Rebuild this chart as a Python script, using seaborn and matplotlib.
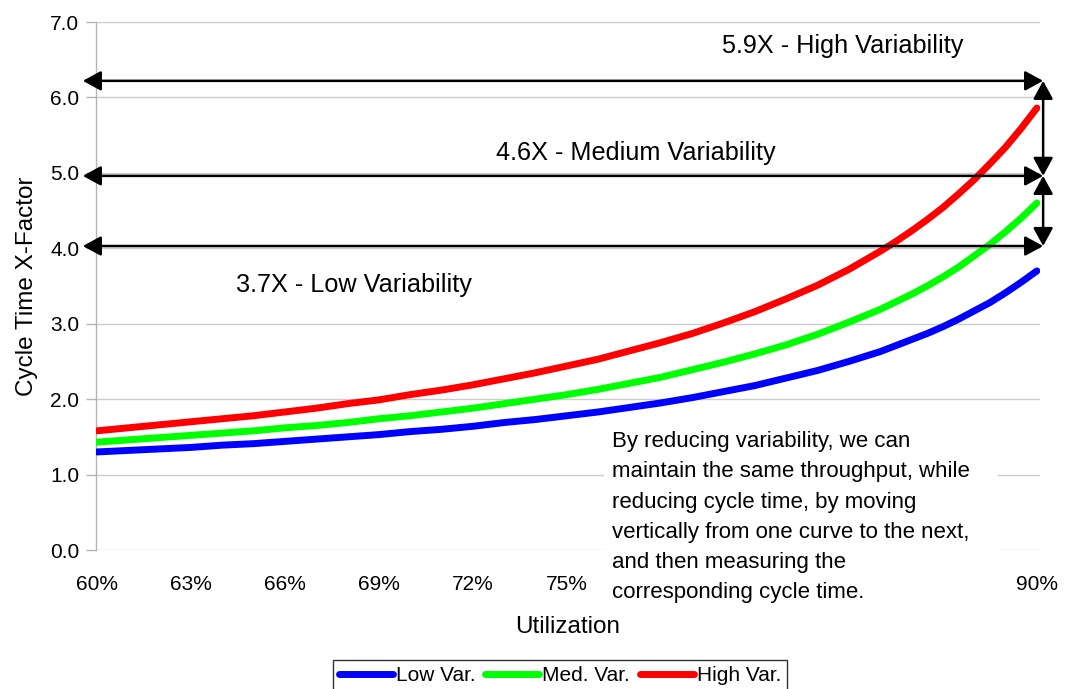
import matplotlib
matplotlib.use("Agg")
import matplotlib.pyplot as plt
import numpy as np
import pandas as pd
import seaborn as sns
from matplotlib.patches import Rectangle

# ---------------- data ----------------
utilization = [60, 61, 62, 63, 64, 65, 66, 67, 68, 69, 70,
               71, 72, 73, 74, 75, 76, 77, 78, 79, 80,
               81, 82, 83, 84, 85, 85.5, 86, 86.5, 87, 87.5, 88, 88.5, 89, 89.5, 90]
low_var = [1.30, 1.32, 1.34, 1.36, 1.39, 1.41, 1.44, 1.47, 1.50, 1.53, 1.57,
           1.60, 1.64, 1.69, 1.73, 1.78, 1.83, 1.89, 1.95, 2.02, 2.10,
           2.18, 2.28, 2.38, 2.50, 2.63, 2.71, 2.79, 2.87, 2.96, 3.06, 3.17, 3.28, 3.41, 3.55, 3.70]
med_var = [1.43, 1.46, 1.49, 1.52, 1.55, 1.58, 1.62, 1.65, 1.69, 1.74, 1.78,
           1.83, 1.88, 1.94, 2.00, 2.06, 2.13, 2.21, 2.29, 2.39, 2.49,
           2.60, 2.72, 2.86, 3.02, 3.19, 3.29, 3.39, 3.50, 3.62, 3.75, 3.90, 4.05, 4.22, 4.40, 4.60]
high_var = [1.58, 1.62, 1.66, 1.70, 1.74, 1.78, 1.83, 1.88, 1.94, 1.99, 2.06,
            2.12, 2.19, 2.27, 2.35, 2.44, 2.53, 2.64, 2.75, 2.87, 3.01,
            3.16, 3.33, 3.51, 3.72, 3.96, 4.09, 4.23, 4.38, 4.54, 4.72, 4.91, 5.12, 5.34, 5.59, 5.86]
series_names = ["Low Var.", "Med. Var.", "High Var."]
series_colors = ["#0000FF", "#00FF00", "#FF0000"]
# tick labels visible in the reference (78%-87% are hidden behind the note box)
x_ticks = [60, 63, 66, 69, 72, 75, 90]
x_tick_labels = ["60%", "63%", "66%", "69%", "72%", "75%", "90%"]
y_ticks = [0, 1, 2, 3, 4, 5, 6, 7]
y_tick_labels = ["0.0", "1.0", "2.0", "3.0", "4.0", "5.0", "6.0", "7.0"]
arrow_levels = [6.22, 4.96, 4.03]
arrow_labels = ["5.9X - High Variability", "4.6X - Medium Variability", "3.7X - Low Variability"]
label_pos = [(83.8, 6.68), (77.2, 5.26), (68.2, 3.51)]
note_text = ("By reducing variability, we can\n"
             "maintain the same throughput, while\n"
             "reducing cycle time, by moving\n"
             "vertically from one curve to the next,\n"
             "and then measuring the\n"
             "corresponding cycle time.")

# ---------------- style ----------------
sns.set_theme(style="white")
plt.rcParams["font.family"] = ["Liberation Sans", "DejaVu Sans"]

W, H = 1067, 689
fig = plt.figure(figsize=(W / 100, H / 100), dpi=100)
fig.patch.set_facecolor("white")
ax = fig.add_axes([96 / W, 1 - 550 / H, 944 / W, 528 / H])

df = pd.concat([
    pd.DataFrame({"Utilization": utilization, "Value": vals, "Series": name})
    for name, vals in zip(series_names, [low_var, med_var, high_var])
])
sns.lineplot(data=df, x="Utilization", y="Value", hue="Series",
             hue_order=series_names, palette=dict(zip(series_names, series_colors)),
             linewidth=5, ax=ax, legend=False, zorder=3)
for ln in ax.get_lines():
    ln.set_solid_capstyle("round")
    ln.set_solid_joinstyle("round")

ax.set_xlim(59.97, 90.1)
ax.set_ylim(0, 7)
ax.set_xticks(x_ticks)
ax.set_xticklabels(x_tick_labels)
ax.set_yticks(y_ticks)
ax.set_yticklabels(y_tick_labels)
ax.yaxis.grid(True, color="#cccccc", linewidth=1)
ax.xaxis.grid(False)
for s in ["top", "right", "bottom"]:
    ax.spines[s].set_visible(False)
ax.spines["left"].set_color("#b4b4b4")
ax.spines["left"].set_linewidth(1)
ax.tick_params(axis="y", left=True, length=7, width=1, color="#b4b4b4",
               pad=5, labelsize=15, labelcolor="black")
ax.tick_params(axis="x", bottom=False, length=0, pad=18, labelsize=15,
               labelcolor="black")
ax.set_xlabel("Utilization", fontsize=17.5, labelpad=15.5, color="black")
ax.set_ylabel("Cycle Time X-Factor", fontsize=17.5, labelpad=9, color="black")

# arrows
arrow_kw = dict(arrowstyle="<|-|>,head_length=0.55,head_width=0.3", color="black",
                lw=1.8, shrinkA=0, shrinkB=0, mutation_scale=20)
for y in arrow_levels:
    ax.annotate("", xy=(90.2, y), xytext=(59.55, y), xycoords="data",
                arrowprops=arrow_kw, annotation_clip=False)
ax.annotate("", xy=(90.2, arrow_levels[1]), xytext=(90.2, arrow_levels[0]),
            arrowprops=arrow_kw, annotation_clip=False)
ax.annotate("", xy=(90.2, arrow_levels[2]), xytext=(90.2, arrow_levels[1]),
            arrowprops=arrow_kw, annotation_clip=False)

for txt, (x, y) in zip(arrow_labels, label_pos):
    ax.text(x, y, txt, ha="center", va="center", fontsize=18.2, color="black")

# note box (white) covering part of the plot
fig.patches.append(Rectangle((604 / W, 1 - 603 / H), (998 - 604) / W, (603 - 420) / H,
                             transform=fig.transFigure, facecolor="white",
                             edgecolor="none", zorder=2))
fig.text(612 / W, 1 - 431 / H, note_text, ha="left", va="top", fontsize=16,
         linespacing=1.58, color="black", zorder=5)

# legend
handles = ax.get_lines()[:3]
leg = fig.legend(handles, series_names, loc="upper center",
                 bbox_to_anchor=(560 / W, 1 - 660 / H), ncol=3, frameon=True,
                 fancybox=False, edgecolor="black", fontsize=15,
                 handlelength=2.6, handletextpad=0.15, columnspacing=0.45,
                 borderpad=0.3, borderaxespad=0)
leg.get_frame().set_linewidth(1)
for t in leg.get_texts():
    t.set_color("black")

fig.savefig("out.png", dpi=100)
